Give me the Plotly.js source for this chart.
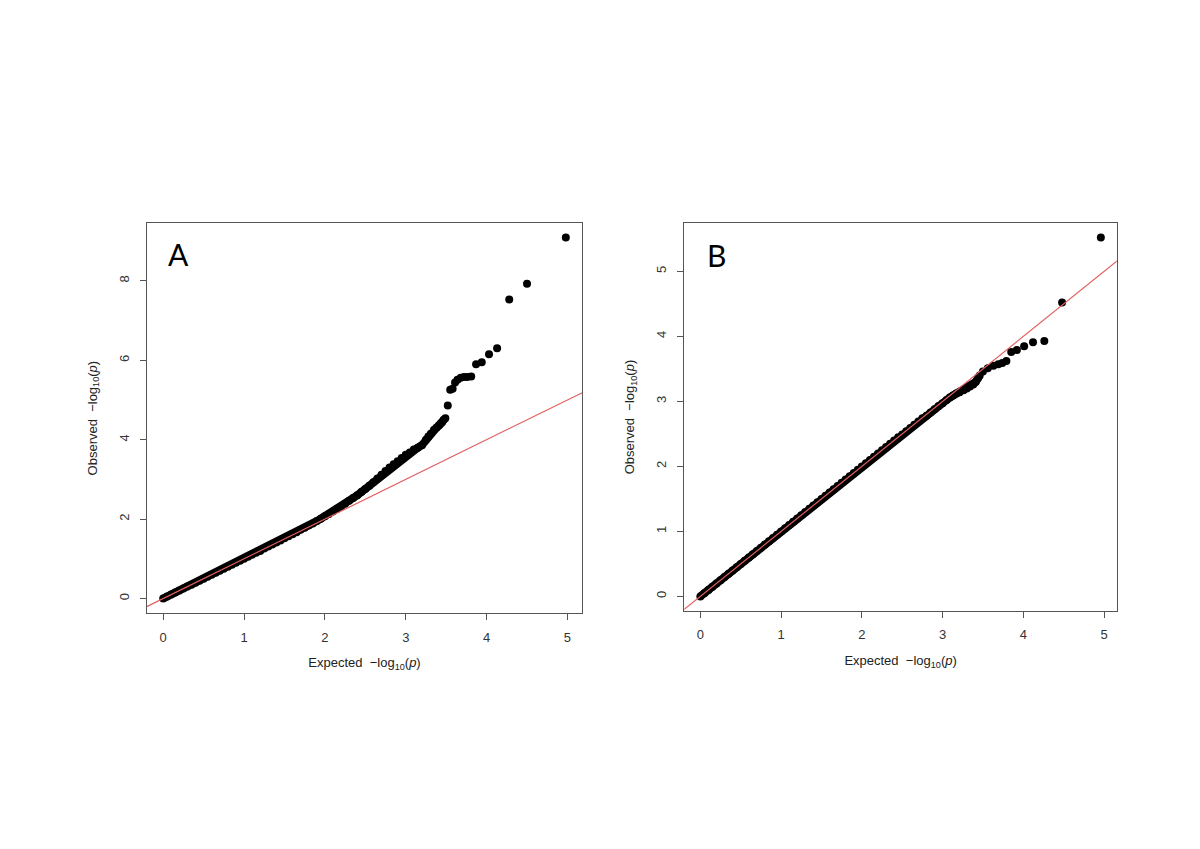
<!DOCTYPE html>
<html>
<head>
<meta charset="utf-8">
<script src="https://cdn.plot.ly/plotly-3.0.1.min.js"></script>
<style>html,body{margin:0;padding:0;background:#fff;}#chart{width:1200px;height:849px;}</style>
</head>
<body>
<div id="chart"></div>
<script>
// Panel A: expected vs observed -log10(p) — dense body of the distribution
var A_dense_expected = [0.00,0.05,0.10,0.15,0.20,0.25,0.30,0.35,0.40,0.45,0.50,0.55,0.60,0.65,0.70,0.75,0.80,0.85,0.90,0.95,
  1.00,1.05,1.10,1.15,1.20,1.25,1.30,1.35,1.40,1.45,1.50,1.55,1.60,1.65,1.70,1.75,1.80,1.85,1.90,1.95,
  2.00,2.05,2.10,2.15,2.20,2.25,2.30,2.35,2.40,2.45,2.50,2.55,2.60,2.65,2.70,2.75,2.80,2.85,2.90,2.95,
  3.00,3.05,3.10,3.15,3.20,3.25,3.28,3.31,3.35,3.38,3.41,3.43,3.45,3.47];
var A_dense_observed = [0.00,0.05,0.10,0.15,0.20,0.25,0.30,0.35,0.40,0.45,0.50,0.55,0.60,0.65,0.70,0.75,0.80,0.85,0.90,0.95,
  1.00,1.05,1.10,1.15,1.20,1.26,1.31,1.36,1.41,1.46,1.52,1.57,1.62,1.67,1.73,1.78,1.84,1.89,1.95,2.01,
  2.07,2.13,2.19,2.26,2.32,2.39,2.46,2.53,2.60,2.68,2.76,2.84,2.93,3.02,3.12,3.21,3.30,3.38,3.46,3.54,
  3.62,3.68,3.75,3.80,3.86,4.00,4.08,4.15,4.25,4.30,4.36,4.40,4.44,4.50];
// Panel A: upper tail (individual points)
var A_tail_expected = [3.49,3.52,3.55,3.58,3.61,3.64,3.68,3.72,3.76,3.81,3.87,3.94,4.03,4.13,4.28,4.50,4.98];
var A_tail_observed = [4.54,4.86,5.26,5.28,5.44,5.51,5.56,5.58,5.58,5.59,5.90,5.95,6.15,6.30,7.53,7.93,9.09];

// Panel B: dense body
var B_dense_expected = [0.00,0.05,0.10,0.15,0.20,0.25,0.30,0.35,0.40,0.45,0.50,0.55,0.60,0.65,0.70,0.75,0.80,0.85,0.90,0.95,
  1.00,1.05,1.10,1.15,1.20,1.25,1.30,1.35,1.40,1.45,1.50,1.55,1.60,1.65,1.70,1.75,1.80,1.85,1.90,1.95,
  2.00,2.05,2.10,2.15,2.20,2.25,2.30,2.35,2.40,2.45,2.50,2.55,2.60,2.65,2.70,2.75,2.80,2.85,2.90,2.95,
  3.00,3.05,3.09,3.13,3.17,3.21,3.26,3.30,3.34,3.38,3.41,3.44,3.46];
var B_dense_observed = [0.00,0.05,0.10,0.15,0.20,0.25,0.30,0.35,0.40,0.45,0.50,0.55,0.60,0.65,0.70,0.75,0.80,0.85,0.90,0.95,
  1.00,1.05,1.10,1.15,1.20,1.25,1.30,1.35,1.40,1.45,1.50,1.55,1.60,1.65,1.70,1.75,1.80,1.85,1.90,1.95,
  2.00,2.05,2.10,2.15,2.20,2.25,2.30,2.35,2.40,2.45,2.49,2.54,2.59,2.64,2.69,2.74,2.78,2.83,2.88,2.93,
  2.97,3.02,3.06,3.09,3.12,3.14,3.17,3.20,3.23,3.26,3.30,3.36,3.40];
// Panel B: upper tail
var B_tail_expected = [3.50,3.56,3.63,3.69,3.74,3.79,3.85,3.92,4.01,4.12,4.26,4.48,4.96];
var B_tail_observed = [3.46,3.51,3.55,3.57,3.59,3.62,3.76,3.79,3.85,3.91,3.93,4.52,5.52];

// Reference line y = x
var diag = [-1, 12];

var pointStyle = {color: '#000000', size: 8, line: {width: 0}};
var bandLine = {color: '#000000', width: 8};
var lineStyle = {color: 'rgb(226,96,96)', width: 1.2};

var traces = [
  {x: A_dense_expected, y: A_dense_observed, mode: 'lines+markers', type: 'scatter', marker: pointStyle, line: bandLine, xaxis: 'x', yaxis: 'y'},
  {x: A_tail_expected, y: A_tail_observed, mode: 'markers', type: 'scatter', marker: pointStyle, xaxis: 'x', yaxis: 'y'},
  {x: diag, y: diag, mode: 'lines', type: 'scatter', line: lineStyle, xaxis: 'x', yaxis: 'y'},
  {x: B_dense_expected, y: B_dense_observed, mode: 'lines+markers', type: 'scatter', marker: pointStyle, line: bandLine, xaxis: 'x2', yaxis: 'y2'},
  {x: B_tail_expected, y: B_tail_observed, mode: 'markers', type: 'scatter', marker: pointStyle, xaxis: 'x2', yaxis: 'y2'},
  {x: diag, y: diag, mode: 'lines', type: 'scatter', line: lineStyle, xaxis: 'x2', yaxis: 'y2'}
];

var tickFont = {family: 'Liberation Sans, Arial, sans-serif', size: 13, color: '#333'};
var titleFont = {family: 'Liberation Sans, Arial, sans-serif', size: 13, color: '#222'};
var xTitle = 'Expected  \u2212log<sub>10</sub>(<i>p</i>)';
var yTitle = 'Observed  \u2212log<sub>10</sub>(<i>p</i>)';

function xax(domain, range, anchor) {
  return {domain: domain, range: range, anchor: anchor, showgrid: false, zeroline: false,
    showline: true, mirror: true, linecolor: '#555', linewidth: 1,
    ticks: 'outside', ticklen: 6, tickcolor: '#555', tickwidth: 1, tick0: 0, dtick: 1,
    tickfont: tickFont, ticklabelstandoff: 6,
    title: {text: xTitle, font: titleFont, standoff: 14}};
}
function yax(domain, range, anchor, dtick) {
  return {domain: domain, range: range, anchor: anchor, showgrid: false, zeroline: false,
    showline: true, mirror: true, linecolor: '#555', linewidth: 1,
    ticks: 'outside', ticklen: 6, tickcolor: '#555', tickwidth: 1, tick0: 0, dtick: dtick,
    tickangle: -90, tickfont: tickFont, ticklabelstandoff: 6,
    title: {text: yTitle, font: titleFont, standoff: 16}};
}

var layout = {
  width: 1200, height: 849,
  margin: {l: 0, r: 0, t: 0, b: 0},
  paper_bgcolor: '#ffffff', plot_bgcolor: '#ffffff',
  showlegend: false,
  hovermode: false,
  xaxis: xax([0.1225, 0.4850], [-0.20, 5.18], 'y'),
  yaxis: yax([0.2780, 0.7370], [-0.364, 9.45], 'x', 2),
  xaxis2: xax([0.5703, 0.9307], [-0.198, 5.158], 'y2'),
  yaxis2: yax([0.2807, 0.7370], [-0.22, 5.74], 'x2', 1),
  annotations: [
    {text: 'A', xref: 'paper', yref: 'paper', x: 178/1200, y: 1 - 254/849, xanchor: 'center', yanchor: 'middle', showarrow: false,
     font: {family: 'Lato, Open Sans, sans-serif', size: 30, color: '#000'}},
    {text: 'B', xref: 'paper', yref: 'paper', x: 716/1200, y: 1 - 255/849, xanchor: 'center', yanchor: 'middle', showarrow: false,
     font: {family: 'Lato, Open Sans, sans-serif', size: 30, color: '#000'}}
  ]
};

Plotly.newPlot('chart', traces, layout, {displayModeBar: false, staticPlot: true});
</script>
</body>
</html>
